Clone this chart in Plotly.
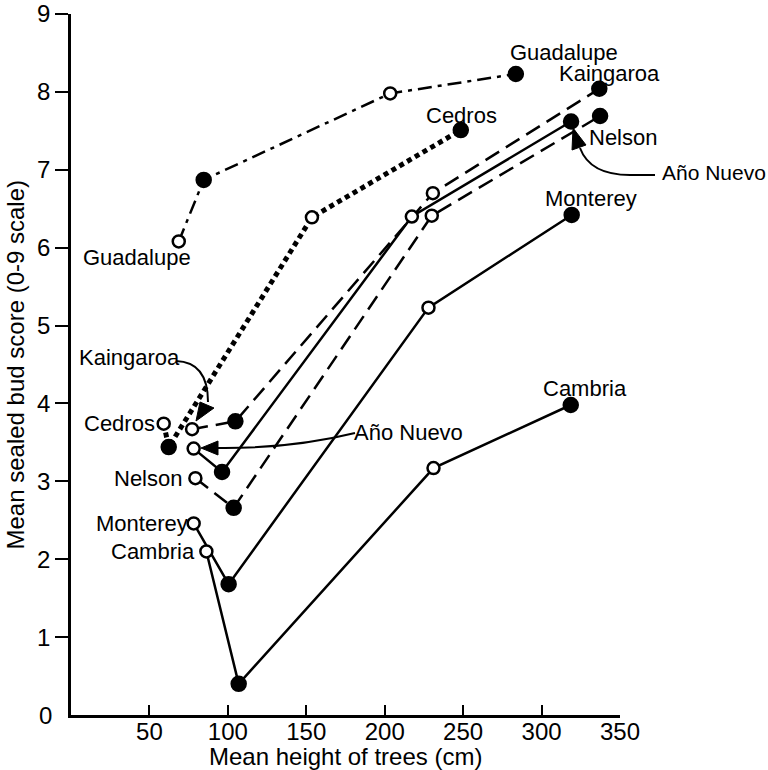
import plotly.graph_objects as go

# ---- data ----
guad_x = [68.7, 84.6, 203.5, 283.6]
guad_y = [6.08, 6.87, 7.98, 8.23]
kain_x = [77.2, 104.8, 230.7, 336.8]
kain_y = [3.67, 3.77, 6.70, 8.04]
cedros_x = [59.1, 62.3, 153.6, 248.5]
cedros_y = [3.74, 3.44, 6.39, 7.51]
nelson_x = [79.3, 103.7, 230.0, 337.3]
nelson_y = [3.04, 2.66, 6.41, 7.69]
ano_x = [78.2, 96.3, 217.3, 318.8]
ano_y = [3.42, 3.12, 6.40, 7.62]
mont_x = [78.2, 100.5, 227.9, 319.2]
mont_y = [2.46, 1.68, 5.23, 6.42]
camb_x = [86.3, 106.9, 231.1, 318.6]
camb_y = [2.10, 0.40, 3.17, 3.98]

x_ticks = [50, 100, 150, 200, 250, 300, 350]
y_ticks = [1, 2, 3, 4, 5, 6, 7, 8, 9]

FONT = "Liberation Sans, Arial, Helvetica, sans-serif"
fill = ["white", "black", "white", "black"]
sizes = [12, 14, 12, 14]

series = [
    ("Guadalupe", guad_x, guad_y, dict(width=2.5, dash="14px,6px,4px,6px")),
    ("Kaingaroa", kain_x, kain_y, dict(width=2.5, dash="16px,8px")),
    ("Cedros", cedros_x, cedros_y, dict(width=5, dash="5px,4px")),
    ("Nelson", nelson_x, nelson_y, dict(width=2.5, dash="16px,8px")),
    ("Año Nuevo", ano_x, ano_y, dict(width=2.5)),
    ("Monterey", mont_x, mont_y, dict(width=2.5)),
    ("Cambria", camb_x, camb_y, dict(width=2.5)),
]

fig = go.Figure()
for name, xs, ys, ln in series:
    fig.add_trace(go.Scatter(
        x=xs, y=ys, mode="lines", name=name,
        line=dict(color="black", **ln), showlegend=False, hoverinfo="skip"))
for name, xs, ys, ln in series:
    fig.add_trace(go.Scatter(
        x=xs, y=ys, mode="markers", name=name, opacity=1,
        marker=dict(color=fill, size=sizes, opacity=1,
                    line=dict(color="black", width=2.5)),
        showlegend=False, cliponaxis=False))

LF = dict(family=FONT, size=22, color="black")
ann = []
def lab(text, x, y, xanchor="center", xshift=0, font=LF):
    ann.append(dict(text=text, x=x, y=y, xref="x", yref="y", showarrow=False,
                    xanchor=xanchor, yanchor="middle", xshift=xshift, font=font))

# right-hand labels
lab("Guadalupe", 314.5, 8.50)
lab("Kaingaroa", 310.0, 8.24, xanchor="left")
lab("Cedros", 249.0, 7.70)
lab("Nelson", 329.1, 7.41, xanchor="left")
lab("Año Nuevo", 350, 6.96, xanchor="left", xshift=40,
    font=dict(family=FONT, size=21, color="black"))
lab("Monterey", 331.5, 6.63)
lab("Cambria", 327.9, 4.19)
# left-hand labels
lab("Guadalupe", 41.8, 5.88)
lab("Kaingaroa", 37.6, 4.59)
lab("Año Nuevo", 215.4, 3.63)
lab("Cedros", 54.6, 3.745, xanchor="right")
lab("Nelson", 72.0, 3.04, xanchor="right")
lab("Monterey", 75.8, 2.46, xanchor="right")
lab("Cambria", 80.1, 2.10, xanchor="right")

# ---- layout in pixels ----
L, R, T, B = 71, 148, 14, 55
W, H = 768 - L - R, 770 - T - B
def P(px, py):
    return f"{(px - L) / W:.5f},{(770 - B - py) / H:.5f}"
def PX(px):
    return (px - L) / W
def PY(py):
    return (770 - B - py) / H

TF = dict(family=FONT, size=24, color="black")
# y-axis "0" label (no tick mark at 0 in the reference)
ann.append(dict(text="0", x=0, y=0, xref="paper", yref="y", showarrow=False,
                xanchor="right", yanchor="middle", xshift=-17, font=TF))
# axis titles
ann.append(dict(text="Mean height of trees (cm)", x=0.5, y=PY(756),
                xref="paper", yref="paper", showarrow=False,
                xanchor="center", yanchor="middle", font=TF))
ann.append(dict(text="Mean sealed bud score (0-9 scale)", x=PX(15), y=0.5,
                xref="paper", yref="paper", showarrow=False, textangle=-90,
                xanchor="center", yanchor="middle", font=TF))

shapes = []
def curve(d):
    shapes.append(dict(type="path", xref="paper", yref="paper", path=d,
                       line=dict(color="black", width=2), layer="above"))
def head(a, b, c):
    shapes.append(dict(type="path", xref="paper", yref="paper",
                       path=f"M{P(*a)} L{P(*b)} L{P(*c)} Z",
                       fillcolor="black", line=dict(color="black", width=1),
                       layer="above"))

# Año Nuevo (right)
curve(f"M{P(580,148)} Q{P(590,175)} {P(630,175)} L{P(655,175)}")
head((573, 128), (572, 150), (586, 145))
# Año Nuevo (left)
curve(f"M{P(355,433)} Q{P(290,449)} {P(216,448)}")
head((201, 448), (218, 441), (218, 455))
# Kaingaroa (left)
curve(f"M{P(176,361)} Q{P(208,362)} {P(208,402)}")
head((196, 421), (200, 402), (214, 408))

fig.update_layout(
    width=768, height=770,
    margin=dict(l=L, r=R, t=T, b=B, autoexpand=False),
    paper_bgcolor="white", plot_bgcolor="white",
    font=dict(family=FONT, color="black"),
    annotations=ann, shapes=shapes,
    xaxis=dict(range=[0, 350], showline=True, linecolor="black", linewidth=2.5,
               ticks="inside", ticklen=10, tickwidth=2, tickcolor="black",
               tickvals=x_ticks, ticktext=[str(v) for v in x_ticks],
               showgrid=False, zeroline=False, automargin=False,
               ticklabelstandoff=-7, tickfont=TF),
    yaxis=dict(range=[0, 9], showline=True, linecolor="black", linewidth=2.5,
               ticks="outside", ticklen=13, tickwidth=2, tickcolor="black",
               tickvals=y_ticks, ticktext=[str(v) for v in y_ticks],
               showgrid=False, zeroline=False, automargin=False,
               tickfont=TF),
)

fig.write_html(
    "out.html",
    config={"displayModeBar": False},
    post_script="document.body.style.margin='0px';"
                "document.body.style.overflow='hidden';",
)
